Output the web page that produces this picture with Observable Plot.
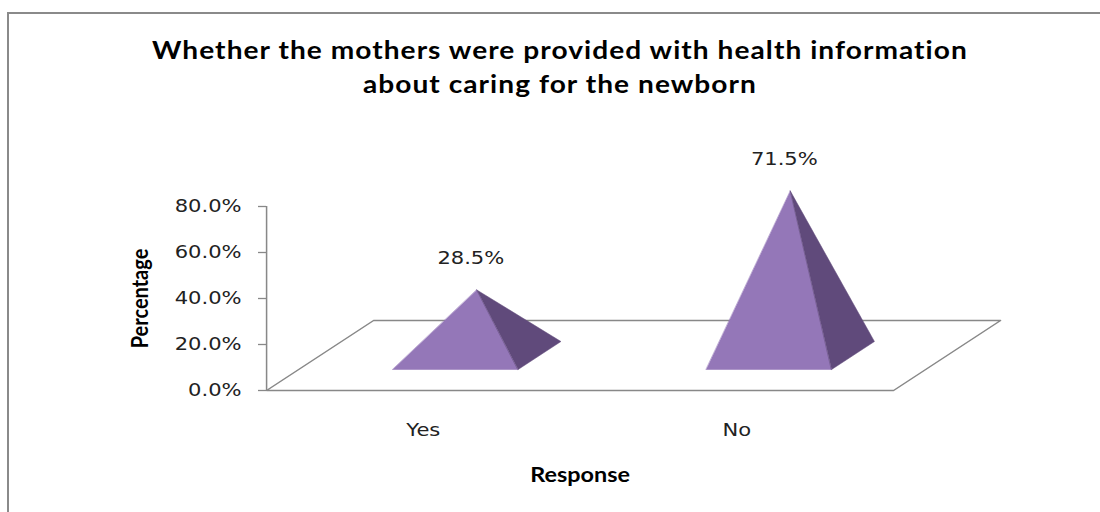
<!DOCTYPE html>
<html><head><meta charset="utf-8">
<script src="https://cdn.jsdelivr.net/npm/d3@7"></script>
<script src="https://cdn.jsdelivr.net/npm/@observablehq/plot@0.6"></script>
<style>
html,body{margin:0;padding:0;background:#fff;overflow:hidden;width:1100px;height:512px;}
#frame{position:absolute;left:7px;top:12px;width:1200px;height:600px;border-top:2px solid #8a8a8a;border-left:2px solid #8a8a8a;pointer-events:none;z-index:2;}
#title{width:957px;height:112px;box-sizing:border-box;padding-top:33px;text-align:center;font-family:Lato,"Open Sans",sans-serif;font-weight:bold;font-size:24px;letter-spacing:0.9px;line-height:34px;color:#000;white-space:nowrap;transform:scaleX(1.1702);transform-origin:0 0;}
#chart svg{transform:scaleX(1.1702);transform-origin:0 0;display:block;}
</style></head>
<body><div id="frame"></div>
<div id="title">Whether the mothers were provided with health information<br>about caring for the newborn</div>
<div id="chart"></div>
<script>
// ---- data ----
const categories = ["Yes", "No"];
const values = [28.5, 71.5];
const yTicks = [0, 20, 40, 60, 80];
const xLabel = "Response";
const yLabel = "Percentage";

// ---- layout / projection ----
const S = 1100 / 940;          // horizontal stretch of the original picture
const W = 940, H = 400;
const DX = 0.3413, DY = 30.43;  // depth vector of the 3D floor (x units, % units)
const HW = 0.2, D0 = 0.3, D1 = 0.7; // pyramid half width and depth span
const gray = "#888";
const purple = "#9477b8", purpleDark = "#604a7b";

const n = categories.length;
const floor = [[0, 0], [DX, DY], [n + DX, DY], [n, 0]].map(([x, y]) => ({x, y}));

const faces = categories.flatMap((c, i) => {
  const cx = i + 0.5, v = values[i];
  const FL = [cx - HW + D0 * DX, D0 * DY];
  const FR = [cx + HW + D0 * DX, D0 * DY];
  const BR = [cx + HW + D1 * DX, D1 * DY];
  const AP = [cx + 0.5 * DX, v + 0.5 * DY];
  return [
    ...[FL, FR, AP].map(p => ({id: c + "-front", side: "front", x: p[0], y: p[1]})),
    ...[FR, BR, AP].map(p => ({id: c + "-right", side: "right", x: p[0], y: p[1]}))
  ];
});
const apexes = categories.map((c, i) => ({c, x: i + 0.5 + 0.5 * DX, y: values[i] + 0.5 * DY, v: values[i]}));

const chart = Plot.plot({
  width: W,
  height: H,
  marginLeft: 266 / S,
  marginRight: W - 893 / S,
  marginTop: 94,
  marginBottom: 122,
  style: {fontFamily: "DejaVu Sans", fontSize: "18px", color: "#222", background: "none", overflow: "visible"},
  x: {domain: [0, n], axis: null},
  y: {domain: [0, 80], axis: null},
  marks: [
    Plot.line(floor, {x: "x", y: "y", curve: "linear-closed", stroke: gray, strokeWidth: 1.3, fill: "white"}),
    Plot.ruleX([0], {y1: 0, y2: 80, stroke: gray, strokeWidth: 1.3}),
    Plot.axisY(yTicks, {tickSize: 8 / S, tickPadding: 17 / S, tickFormat: d => d.toFixed(1) + "%", stroke: gray, strokeWidth: 1.3, label: null, fill: "#222"}),
    Plot.axisX(categories.map((c, i) => i + 0.5), {tickSize: 0, tickPadding: 33, tickFormat: d => categories[Math.floor(d)], label: null, fill: "#222"}),
    Plot.line(faces.filter(d => d.side === "front"), {x: "x", y: "y", z: "id", curve: "linear-closed", fill: purple, stroke: purple, strokeWidth: 0.5}),
    Plot.line(faces.filter(d => d.side === "right"), {x: "x", y: "y", z: "id", curve: "linear-closed", fill: purpleDark, stroke: purpleDark, strokeWidth: 0.5}),
    Plot.text(apexes, {x: "x", y: "y", text: d => d.v.toFixed(1) + "%", dy: -32, dx: -6 / S, fill: "#222"}),
    Plot.text([yLabel], {frameAnchor: "left", rotate: -90, textAnchor: "middle", dx: -(266 - 131) / S, lineAnchor: "top", fontFamily: "Lato", fontWeight: "bold", fontSize: 20, fill: "#000"}),
    Plot.text([xLabel], {frameAnchor: "bottom", dy: 91, lineAnchor: "bottom", fontFamily: "Lato", fontWeight: "bold", fontSize: 20, fill: "#000"})
  ]
});
document.getElementById("chart").appendChild(chart);
</script>
</body></html>
